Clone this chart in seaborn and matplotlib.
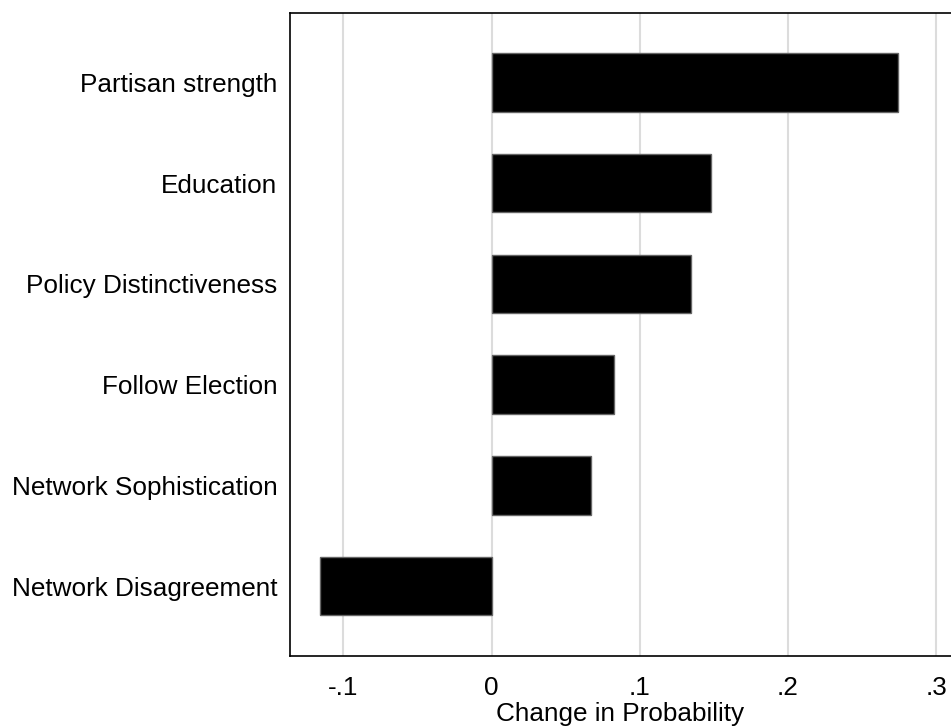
import matplotlib
matplotlib.use("Agg")
from matplotlib import pyplot as plt
import seaborn as sns
import pandas as pd

# values
labels = ["Partisan strength", "Education", "Policy Distinctiveness",
          "Follow Election", "Network Sophistication", "Network Disagreement"]
change = [0.274, 0.148, 0.1345, 0.0823, 0.067, -0.116]
xticks = [-0.1, 0, 0.1, 0.2, 0.3]
xtick_labels = ["-.1", "0", ".1", ".2", ".3"]

df = pd.DataFrame({"var": labels, "change": change})

sns.set_style("white")
plt.rcParams["font.family"] = ["Liberation Sans", "DejaVu Sans"]
plt.rcParams["text.color"] = "black"
plt.rcParams["xtick.color"] = "black"
plt.rcParams["ytick.color"] = "black"
plt.rcParams["axes.labelcolor"] = "black"

fig = plt.figure(figsize=(9.51, 7.28), dpi=100)
ax = fig.add_axes([0.305, 0.0995, 0.695, 0.8826])

sns.barplot(data=df, x="change", y="var", orient="h", color="black",
            width=0.58, edgecolor="#666666", linewidth=1, saturation=1, ax=ax)

ax.set_xlim(-0.136, 0.31)
ax.set_ylim(5.69, -0.69)
ax.set_xticks(xticks)
ax.set_xticklabels(xtick_labels, fontsize=18.8)
ax.tick_params(axis="x", direction="out", length=7.5, width=1, color="black", pad=7)
ax.tick_params(axis="y", length=0, pad=9, labelsize=18.8)
ax.set_axisbelow(True)
ax.grid(axis="x", color="#dcdcdc", linewidth=1.5)
ax.grid(axis="y", visible=False)
ax.set_xlabel("Change in Probability", fontsize=18.8, labelpad=2)
ax.set_ylabel("")
for side in ["left", "bottom", "top"]:
    ax.spines[side].set_color("black")
    ax.spines[side].set_linewidth(1.2)
ax.spines["right"].set_visible(False)

fig.savefig("out.png", dpi=100)
